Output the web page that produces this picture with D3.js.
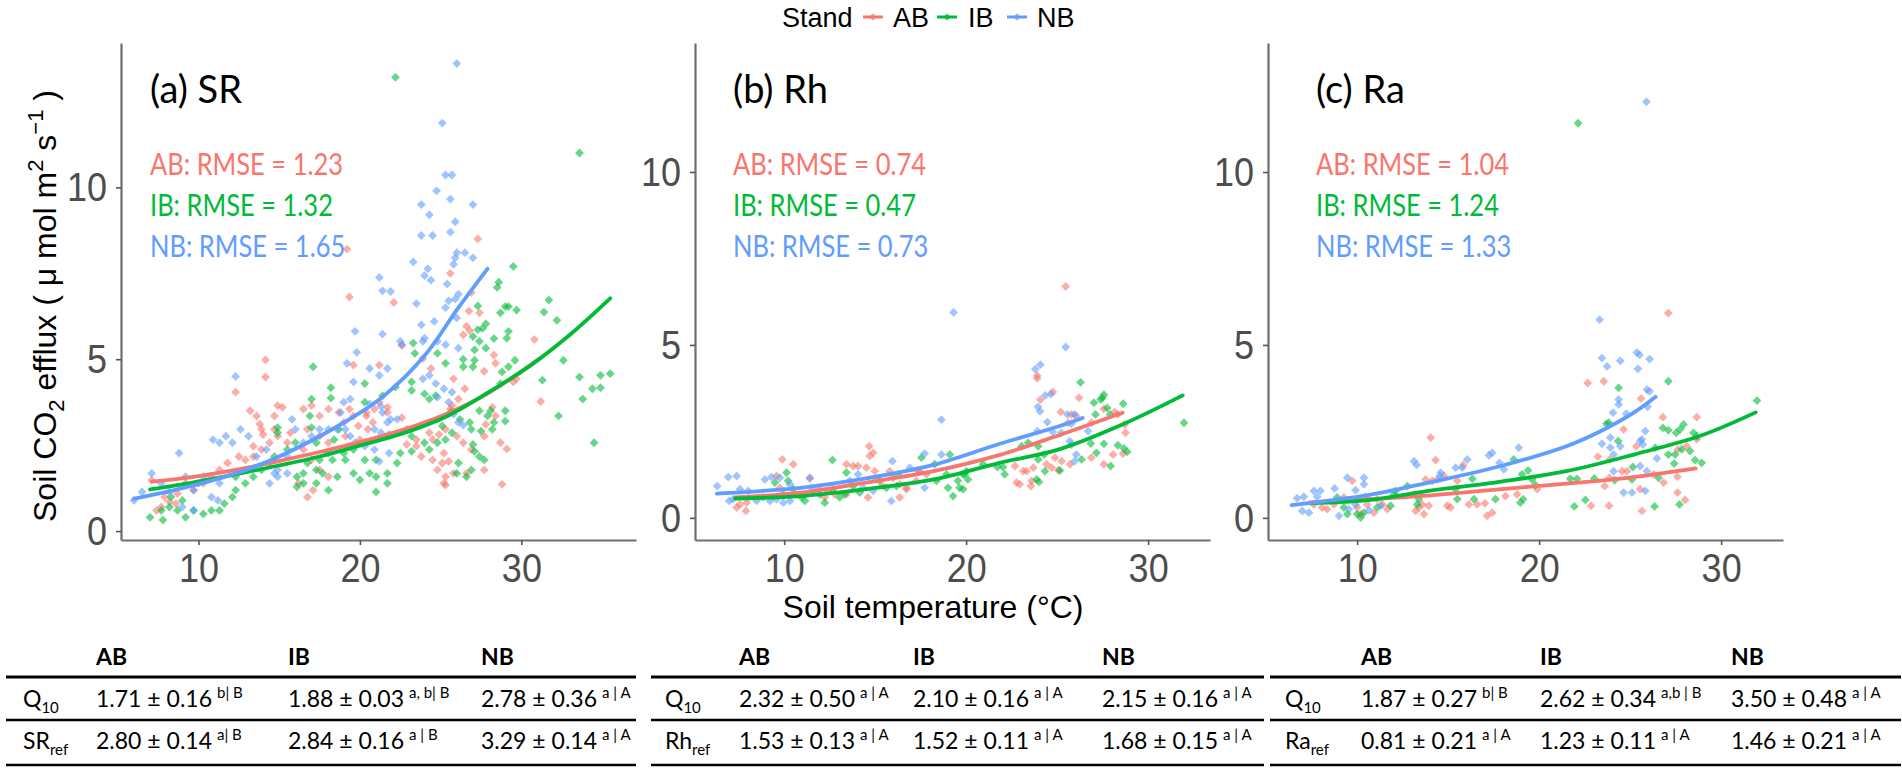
<!DOCTYPE html>
<html><head><meta charset="utf-8">
<script src="https://cdn.jsdelivr.net/npm/d3@7/dist/d3.min.js"></script>
<style>html,body{margin:0;padding:0;background:#fff;} svg{display:block;}</style>
</head><body>
<svg id="chart" width="1902" height="770"></svg>
<script>
// ---------------- data ----------------
const standNames = ["AB", "IB", "NB"];
const standColors = ["#F8766D", "#00BA38", "#619CFF"];
const panelTitles = ["(a) SR", "(b) Rh", "(c) Ra"];
const rmseSR = ["1.23", "1.32", "1.65"];
const rmseRh = ["0.74", "0.47", "0.73"];
const rmseRa = ["1.04", "1.24", "1.33"];
const xTicks = [10, 20, 30];
const yTicks = [0, 5, 10];
const xTitle = "Soil temperature (°C)";

// (a) SR points [soil temperature, efflux]
const srAB = [[27.3,8.5],[19.2,8.2],[25.6,7.5],[26.9,6.94],[19.35,6.81],[22.1,6.65],[26.75,6.4],[27.4,6.35],[26.8,5.83],[26.4,5.71],[26.6,5.96],[30.8,5.57],[22.6,5.4],[19.6,4.83],[21.2,4.83],[14.15,4.98],[14.15,4.48],[23.9,5.02],[24.4,4.73],[25.8,4.43],[26.5,4.14],[27.7,4.65],[28.4,4.88],[28.3,5.12],[29.7,4.43],[29.5,4.34],[31.2,3.77],[21.2,3.75],[21.7,3.6],[20.9,3.55],[20.4,3.45],[20.4,3.35],[21.7,3.45],[22.6,3.3],[25.6,3.55],[25.7,3.65],[26.1,3.84],[28.2,3.6],[28.4,3.35],[27.8,3.1],[29.1,2.39],[28.7,2.57],[27.7,2.76],[26.0,2.76],[26.4,2.57],[26.9,2.37],[24.9,2.81],[25.3,2.96],[24.5,2.66],[22.9,2.96],[23.5,2.66],[24.3,2.86],[22.9,2.52],[23.5,2.47],[23.8,2.17],[24.5,2.07],[25.1,1.98],[25.2,2.27],[25.5,2.03],[25.8,1.68],[24.8,1.78],[25.3,1.58],[25.2,1.39],[25.3,1.34],[26.6,1.68],[27.7,1.78],[28.8,1.36],[19.1,2.76],[20.0,2.66],[20.5,2.96],[20.8,3.16],[12.3,4.04],[13.2,3.5],[13.6,3.35],[13.8,3.11],[13.9,2.96],[14.0,2.81],[14.7,3.35],[14.9,3.65],[15.2,3.6],[14.7,2.96],[14.9,2.76],[15.5,2.57],[15.7,2.86],[14.4,2.57],[13.9,2.37],[13.4,2.47],[13.4,2.17],[12.9,2.07],[12.5,2.17],[11.8,1.98],[11.3,1.78],[10.8,1.58],[10.3,1.39],[9.7,1.19],[9.2,1.39],[8.7,1.09],[8.2,0.85],[7.7,0.7],[7.4,0.6],[7.1,1.48],[7.9,0.99],[8.6,0.8],[16.5,3.55],[17.0,3.65],[17.5,3.35],[18.05,3.55],[18.7,3.45],[19.0,3.16],[19.35,3.55],[19.6,3.35],[19.9,3.06],[16.75,2.96],[17.5,2.76],[18.05,2.57],[16.5,2.37],[17.0,2.07],[17.5,1.78],[18.05,1.58],[16.2,1.39],[17.1,1.19],[16.75,0.99]];
const srIB = [[22.2,13.2],[33.6,11.0],[29.5,7.7],[28.6,7.24],[28.5,7.09],[27.3,6.55],[29.0,6.53],[29.2,6.53],[28.7,6.35],[29.7,6.43],[31.7,6.72],[31.4,6.37],[32.2,6.13],[27.8,6.03],[27.6,5.9],[27.3,5.86],[27.0,5.66],[29.2,5.81],[29.1,5.61],[28.3,5.6],[27.4,5.52],[27.8,5.32],[27.1,5.27],[23.3,5.47],[17.1,4.78],[23.4,5.17],[24.8,5.17],[25.3,4.88],[26.4,5.0],[27.0,4.78],[27.1,4.97],[26.4,4.78],[28.8,4.63],[29.2,4.78],[29.6,4.97],[28.7,4.29],[31.3,4.39],[32.6,4.97],[33.6,4.48],[34.9,4.53],[35.5,4.58],[34.9,4.17],[34.4,4.14],[33.8,3.84],[32.3,3.35],[34.5,2.57],[23.2,4.34],[23.2,4.09],[24.0,3.99],[24.3,3.84],[24.7,3.94],[20.3,4.29],[21.4,3.94],[22.2,4.19],[18.2,4.17],[18.2,3.87],[20.3,3.75],[25.6,3.45],[26.2,3.25],[26.8,3.16],[27.4,3.5],[27.9,3.35],[28.1,3.5],[28.3,3.16],[29.0,3.5],[29.0,3.2],[28.2,2.96],[27.5,2.91],[26.9,2.96],[27.0,2.52],[27.1,2.32],[27.4,2.17],[27.7,2.07],[25.1,3.06],[25.7,2.86],[25.3,2.66],[23.2,2.76],[24.0,2.57],[23.2,2.32],[24.3,2.37],[24.8,2.57],[26.9,1.78],[26.0,1.68],[26.1,1.98],[26.6,1.58],[21.0,2.07],[21.7,1.68],[21.0,1.58],[21.0,1.14],[21.7,1.39],[22.3,1.98],[22.5,2.27],[19.6,2.37],[19.1,2.07],[19.6,1.68],[20.0,1.49],[20.3,2.07],[20.6,1.68],[18.4,2.66],[18.7,2.96],[19.0,2.27],[18.3,2.07],[18.05,2.27],[17.5,2.07],[17.3,1.78],[16.75,1.98],[16.5,1.68],[16.1,1.58],[16.1,1.29],[16.5,1.39],[17.3,1.39],[18.05,1.19],[18.6,1.58],[17.7,1.68],[17.0,3.84],[16.9,3.35],[17.0,3.01],[17.3,2.57],[14.9,3.01],[14.9,2.86],[16.0,2.57],[15.5,2.37],[14.7,2.17],[14.4,1.98],[13.9,1.78],[13.4,1.58],[12.9,1.39],[12.3,1.58],[12.3,1.19],[12.1,0.99],[11.6,0.8],[11.3,0.6],[10.8,0.6],[10.3,0.5],[9.7,0.6],[9.2,0.4],[8.7,0.6],[8.2,0.7],[7.7,0.6],[7.0,0.4],[7.8,0.32],[8.3,0.99],[9.0,0.89]];
const srNB = [[26.0,13.6],[25.1,11.87],[25.3,10.36],[25.7,10.36],[24.75,9.9],[23.8,9.5],[25.6,9.66],[27.0,9.5],[24.3,9.2],[25.9,9.0],[23.8,8.6],[24.5,8.6],[25.6,8.7],[26.0,8.1],[26.5,8.1],[27.0,7.95],[25.9,7.95],[23.3,7.83],[24.2,7.63],[25.8,7.76],[24.0,7.43],[24.4,7.3],[25.4,7.19],[21.2,7.38],[21.4,6.99],[21.9,6.97],[23.5,6.62],[26.1,6.89],[25.9,6.75],[25.5,6.7],[25.3,6.5],[24.6,6.1],[26.0,6.2],[23.8,6.0],[19.7,5.81],[21.4,5.73],[24.0,5.61],[23.9,5.52],[24.8,5.52],[25.3,5.42],[26.1,5.32],[19.2,4.88],[19.8,5.2],[12.3,4.5],[23.9,4.43],[24.3,4.53],[24.7,4.29],[24.8,3.89],[25.2,4.14],[25.5,3.75],[25.7,4.04],[25.8,3.4],[26.1,3.16],[26.4,3.08],[19.0,3.75],[19.4,3.84],[20.6,3.7],[21.3,3.63],[21.4,3.45],[19.1,2.96],[19.4,2.76],[19.7,2.57],[20.3,2.47],[20.9,2.96],[21.3,2.86],[21.8,2.81],[20.9,2.37],[21.8,2.27],[21.2,2.03],[6.0,0.89],[6.5,1.14],[7.1,1.68],[7.7,1.39],[8.2,1.14],[8.8,2.27],[9.2,1.58],[9.7,1.19],[10.0,1.39],[10.8,0.99],[10.3,1.58],[10.9,2.66],[11.3,2.57],[11.7,2.76],[12.1,2.57],[12.6,2.96],[13.1,2.76],[13.6,2.17],[14.2,2.37],[14.7,1.68],[14.9,1.78],[15.5,2.17],[15.8,3.25],[16.0,2.96],[16.5,2.57],[17.0,2.76],[17.5,2.96],[18.05,2.96],[18.6,2.96],[18.8,3.45],[19.6,4.34],[20.6,4.73],[21.2,4.53],[21.7,4.73],[21.9,3.25],[22.3,3.25],[21.7,3.16],[22.5,5.52],[22.6,5.42],[11.2,0.89],[9.0,0.7],[9.7,0.6],[11.3,1.39],[14.4,1.39],[15.5,1.68],[14.9,1.58]];
const srFitAB = [[7.1,1.44],[9.7,1.58],[12.3,1.78],[14.9,2.03],[17.5,2.3],[20.1,2.6],[22.7,2.95],[25.3,3.4],[27.9,4.0],[31.2,5.04]];
const srFitIB = [[7.0,1.21],[9.7,1.42],[12.3,1.65],[14.9,1.9],[17.5,2.17],[20.1,2.5],[22.7,2.85],[25.3,3.32],[27.9,4.02],[30.5,4.8],[33.1,5.75],[35.5,6.77]];
const srFitNB = [[6.0,0.94],[9.0,1.25],[12.3,1.68],[14.9,2.15],[18.8,3.1],[21.4,3.9],[24.0,5.1],[26.1,6.5],[27.9,7.63]];

// (b) Rh points
const rhAB = [[7.39,0.3],[7.57,0.39],[7.94,0.44],[7.9,0.2],[9.9,1.69],[10.5,1.55],[9.58,1.21],[9.76,0.87],[11.41,1.16],[11.87,0.87],[12.23,0.59],[12.41,0.78],[12.78,0.68],[13.42,0.68],[13.42,1.55],[13.79,1.5],[14.06,1.5],[14.52,1.45],[14.67,2.07],[14.7,1.79],[14.89,1.88],[14.98,1.35],[14.61,0.59],[15.07,1.11],[15.43,0.92],[15.8,1.35],[15.98,1.16],[16.35,0.97],[16.72,0.87],[17.26,1.07],[17.36,1.35],[16.35,0.59],[16.72,0.83],[17.45,1.35],[17.82,1.26],[25.47,6.69],[23.9,4.11],[23.9,4.04],[24.08,3.42],[24.76,3.64],[26.2,3.47],[25.2,3.06],[25.78,2.99],[26.05,2.94],[26.88,2.75],[27.57,3.15],[28.16,3.06],[28.71,2.7],[28.76,2.46],[28.34,2.99],[22.68,1.5],[23.14,1.35],[23.32,1.35],[23.6,1.07],[23.69,1.45],[23.56,0.92],[24.42,1.55],[24.7,1.45],[24.88,1.74],[25.25,1.64],[25.07,1.38],[25.71,1.55],[26.88,1.74],[28.07,1.83],[28.62,1.86],[27.57,1.55],[25.6,2.75],[22.77,1.02],[22.95,0.97]];
const rhIB = [[9.49,1.02],[10.13,1.31],[10.22,1.07],[9.95,0.68],[10.5,0.83],[10.96,0.59],[11.14,0.49],[11.96,0.68],[12.23,0.44],[12.69,0.83],[13.05,0.59],[13.33,0.68],[12.65,1.67],[13.42,1.31],[13.79,0.92],[14.15,0.73],[15.25,1.07],[15.62,0.87],[16.17,0.92],[16.26,1.26],[17.54,1.74],[18.27,1.55],[18.37,1.07],[18.92,1.26],[19.1,1.83],[19.0,0.87],[19.28,0.63],[19.55,1.07],[19.64,0.87],[19.83,1.26],[20.01,1.35],[26.29,3.92],[27.02,3.33],[27.11,2.99],[27.57,3.56],[27.48,3.47],[27.75,3.18],[27.9,2.99],[28.63,3.3],[27.39,3.42],[23.05,2.07],[23.41,2.17],[23.96,2.07],[24.29,1.83],[23.96,1.69],[23.87,1.11],[24.0,1.04],[24.33,1.35],[25.15,1.37],[26.34,1.69],[26.85,2.15],[27.16,1.88],[27.57,2.14],[27.94,1.5],[28.34,2.1],[28.85,1.91],[28.67,2.01],[31.97,2.75],[21.72,1.47],[22.03,1.47],[22.12,1.26],[20.93,1.55],[19.92,1.26],[19.83,0.83],[20.1,1.11]];
const rhNB = [[6.32,0.92],[6.93,1.18],[7.39,1.21],[6.98,0.49],[7.2,0.54],[7.57,0.83],[8.03,0.78],[8.49,0.49],[8.85,0.59],[9.22,0.49],[9.58,0.54],[9.95,0.44],[10.32,0.49],[8.94,1.11],[9.3,1.18],[9.76,1.16],[10.32,0.97],[11.41,1.14],[11.5,0.87],[14.06,1.26],[13.6,1.07],[14.33,0.87],[14.89,0.78],[15.89,0.49],[15.95,1.64],[16.9,1.45],[17.72,1.86],[17.72,0.87],[18.64,2.84],[19.31,5.94],[18.64,1.83],[25.47,4.94],[23.8,4.3],[24.08,4.43],[24.35,3.54],[24.66,3.58],[23.95,3.21],[24.06,3.08],[24.46,2.77],[23.91,2.51],[24.77,2.48],[25.56,2.99],[25.96,2.99],[25.78,2.72],[25.78,2.12],[26.05,1.83],[25.96,1.64],[25.69,2.22],[25.23,2.46],[26.7,2.51]];
const rhFitAB = [[7.3,0.59],[10.9,0.73],[14.5,1.02],[18.2,1.35],[21.9,1.83],[25.1,2.39],[28.6,3.04]];
const rhFitIB = [[7.3,0.56],[10.9,0.63],[14.5,0.83],[18.2,1.11],[21.9,1.6],[25.1,1.98],[28.8,2.75],[31.9,3.54]];
const rhFitNB = [[6.3,0.7],[10.9,0.87],[14.5,1.14],[18.2,1.53],[21.9,2.15],[25.1,2.65],[26.4,2.89]];

// (c) Ra points
const raAB = [[7.62,0.39],[8.07,0.3],[8.35,0.25],[8.72,0.39],[9.27,0.59],[9.73,1.07],[10.0,0.3],[10.19,0.11],[10.55,0.39],[10.92,0.15],[11.1,0.54],[11.38,0.39],[11.65,0.25],[14.04,2.32],[14.31,1.67],[15.83,1.53],[15.5,1.07],[14.77,1.21],[14.4,1.11],[14.13,1.07],[13.76,1.11],[13.58,0.39],[13.39,0.3],[13.21,0.2],[13.67,0.11],[13.94,0.35],[14.95,0.35],[15.13,0.3],[16.14,0.39],[16.59,0.39],[17.02,0.42],[17.42,0.15],[17.14,0.06],[18.15,0.63],[18.79,0.68],[19.89,0.83],[27.1,5.92],[22.67,3.9],[23.55,3.95],[25.6,3.45],[24.64,2.56],[25.34,2.07],[26.8,2.91],[28.66,2.91],[28.66,2.27],[28.11,2.07],[27.62,1.98],[27.6,1.19],[27.6,0.73],[28.02,0.52],[26.84,1.02],[26.29,1.26],[25.55,0.83],[25.65,0.2],[24.82,1.35],[24.55,1.35],[23.87,1.69],[23.6,0.92],[23.84,0.35],[22.85,0.35],[23.23,1.77],[23.87,1.16]];
const raIB = [[8.9,0.59],[9.27,0.3],[9.46,0.11],[10.0,0.11],[10.19,0.01],[10.37,0.15],[11.1,0.3],[11.84,0.35],[18.6,1.69],[19.39,1.37],[19.06,1.26],[19.79,0.95],[19.61,1.11],[19.12,0.54],[18.97,0.44],[17.6,0.54],[16.42,0.54],[16.33,1.13],[15.41,0.83],[15.5,0.54],[12.76,0.92],[13.3,0.39],[13.39,0.54],[12.11,0.78],[12.02,0.68],[31.97,3.39],[27.1,3.95],[24.37,3.76],[23.82,2.75],[23.7,2.72],[24.34,2.22],[26.8,2.6],[27.1,2.53],[27.53,2.46],[27.93,2.7],[27.75,2.56],[28.29,1.93],[27.84,1.98],[27.47,1.83],[27.1,1.83],[27.42,1.57],[28.57,1.67],[28.93,1.59],[28.66,2.36],[28.48,2.46],[26.38,2.03],[26.56,1.16],[27.71,0.39],[26.34,0.33],[25.15,1.47],[25.1,1.11],[22.54,0.52],[21.93,0.33],[21.71,1.13],[22.08,1.13],[23.03,1.14],[24.15,1.09],[22.14,11.41]];
const raNB = [[6.7,0.57],[7.07,0.61],[7.62,0.78],[7.98,0.78],[7.8,0.61],[6.98,0.2],[7.35,0.15],[8.76,0.85],[9.46,1.16],[10.37,1.16],[10.37,0.97],[9.91,0.8],[9.0,0.06],[9.55,0.25],[9.91,0.39],[10.65,0.22],[10.46,0.61],[11.29,0.35],[18.88,2.03],[17.42,1.88],[17.24,1.81],[17.82,1.59],[18.06,1.4],[16.05,1.69],[15.77,1.45],[15.41,1.45],[14.59,1.31],[14.55,1.21],[13.12,1.64],[13.27,1.53],[25.9,12.03],[23.32,5.73],[23.45,4.62],[23.73,4.38],[24.46,4.54],[25.37,4.78],[25.52,4.71],[26.07,4.59],[25.43,4.31],[24.37,3.42],[24.37,3.28],[24.06,3.04],[24.79,3.01],[25.92,3.71],[26.07,3.66],[25.96,3.21],[23.45,2.14],[23.91,2.32],[23.91,2.03],[24.09,1.83],[24.46,2.07],[25.55,2.22],[25.7,2.12],[25.83,2.51],[25.65,2.27],[26.47,1.72],[24.09,1.35],[24.64,0.73],[25.1,0.73],[25.55,1.5],[25.92,1.35],[25.83,0.78]];
const raFitAB = [[7.4,0.45],[10.6,0.54],[14.2,0.66],[17.9,0.83],[21.5,0.99],[25.2,1.18],[28.6,1.43]];
const raFitIB = [[7.4,0.42],[10.6,0.51],[14.2,0.8],[17.9,1.05],[21.5,1.35],[25.2,1.83],[28.9,2.38],[31.9,3.05]];
const raFitNB = [[6.4,0.37],[10.6,0.66],[14.2,1.05],[17.9,1.5],[21.5,2.07],[23.4,2.51],[25.2,3.04],[26.4,3.5]];

// tables
const rowQ10 = ["Q", "10"];
const rowSRref = ["SR", "ref"], rowRhref = ["Rh", "ref"], rowRaref = ["Ra", "ref"];
const q10SR = ["1.71 ± 0.16", "1.88 ± 0.03", "2.78 ± 0.36"];
const q10SRsig = ["b| B", "a, b| B", "a | A"];
const refSR = ["2.80 ± 0.14", "2.84 ± 0.16", "3.29 ± 0.14"];
const refSRsig = ["a| B", "a | B", "a | A"];
const q10Rh = ["2.32 ± 0.50", "2.10 ± 0.16", "2.15 ± 0.16"];
const q10RhSig = ["a | A", "a | A", "a | A"];
const refRh = ["1.53 ± 0.13", "1.52 ± 0.11", "1.68 ± 0.15"];
const refRhSig = ["a | A", "a | A", "a | A"];
const q10Ra = ["1.87 ± 0.27", "2.62 ± 0.34", "3.50 ± 0.48"];
const q10RaSig = ["b| B", "a,b | B", "a | A"];
const refRa = ["0.81 ± 0.21", "1.23 ± 0.11", "1.46 ± 0.21"];
const refRaSig = ["a | A", "a | A", "a | A"];

// ---------------- drawing ----------------
const svg = d3.select("#chart");
const AX = "'Liberation Sans', Arial, sans-serif";
const CAL = "Lato, 'Open Sans', sans-serif";
const Y_TOP = 43, Y_BOT = 540;
const STRETCH = 1.15;

const panels = [
  {x0:121, x1:636, xdom:[5.2,37.1], ydom:[-0.26,14.2], tx:150, pts:[srAB,srIB,srNB], fits:[srFitAB,srFitIB,srFitNB], rmse:rmseSR},
  {x0:695, x1:1210, xdom:[5.1,33.4], ydom:[-0.64,13.73], tx:733, pts:[rhAB,rhIB,rhNB], fits:[rhFitAB,rhFitIB,rhFitNB], rmse:rmseRh},
  {x0:1268, x1:1783, xdom:[5.1,33.4], ydom:[-0.64,13.73], tx:1316, pts:[raAB,raIB,raNB], fits:[raFitAB,raFitIB,raFitNB], rmse:rmseRa}
];

const diamond = r => `M0,${-r}L${r},0L0,${r}L${-r},0Z`;

panels.forEach((p, i) => {
  const x = d3.scaleLinear().domain(p.xdom).range([p.x0, p.x1]);
  const y = d3.scaleLinear().domain(p.ydom).range([Y_BOT, Y_TOP]);
  const g = svg.append("g");

  p.pts.forEach((arr, k) => {
    g.append("g").selectAll("path").data(arr).join("path")
      .attr("transform", d => `translate(${x(d[0])},${y(d[1])})`)
      .attr("d", diamond(4.4))
      .attr("fill", standColors[k])
      .attr("fill-opacity", 0.6);
  });
  const line = d3.line().x(d => x(d[0])).y(d => y(d[1])).curve(d3.curveCatmullRom.alpha(0.5));
  p.fits.forEach((arr, k) => {
    g.append("path").datum(arr).attr("d", line)
      .attr("fill", "none").attr("stroke", standColors[k])
      .attr("stroke-width", 3.8).attr("stroke-linecap", "round");
  });

  const ya = g.append("g").attr("transform", `translate(${p.x0},0)`)
    .call(d3.axisLeft(y).tickValues(yTicks).tickSize(5).tickSizeOuter(0).tickPadding(9));
  const xa = g.append("g").attr("transform", `translate(0,${Y_BOT})`)
    .call(d3.axisBottom(x).tickValues(xTicks).tickSize(5).tickSizeOuter(0).tickPadding(6));
  [ya, xa].forEach(a => {
    a.attr("font-family", AX).attr("font-size", 36);
    a.select(".domain").attr("stroke", "#6e6e6e").attr("stroke-width", 2.2);
    a.selectAll(".tick line").attr("stroke", "#555").attr("stroke-width", 1.6);
    a.selectAll(".tick text").attr("fill", "#4D4D4D").attr("transform", `scale(1,${STRETCH})`);
  });

  g.append("text").attr("transform", `translate(${p.tx},103)`)
    .attr("font-family", CAL).attr("font-size", 38).attr("fill", "#000")
    .text(panelTitles[i]);
  p.rmse.forEach((v, k) => {
    g.append("text").attr("transform", `translate(${p.tx},${175 + k * 41}) scale(1,1.2)`)
      .attr("font-family", CAL).attr("font-size", 25.5).attr("fill", standColors[k])
      .text(`${standNames[k]}: RMSE = ${v}`);
  });
});

// y-axis title
const yt = svg.append("text")
  .attr("transform", "translate(56,306) rotate(-90)")
  .attr("text-anchor", "middle").attr("font-family", AX).attr("font-size", 32).attr("fill", "#000");
yt.append("tspan").text("Soil CO");
yt.append("tspan").attr("font-size", 22).attr("dy", 8).text("2");
yt.append("tspan").attr("dy", -8).text(" efflux ( \u03bc mol m");
yt.append("tspan").attr("font-size", 22).attr("dy", -13).text("2");
yt.append("tspan").attr("dy", 13).text(" s");
yt.append("tspan").attr("font-size", 22).attr("dy", -13).text("\u22121");
yt.append("tspan").attr("dy", 13).text(" )");

// x-axis title
svg.append("text").attr("x", 933).attr("y", 618)
  .attr("text-anchor", "middle").attr("font-family", AX).attr("font-size", 32).attr("fill", "#000")
  .text(xTitle);

// legend
const lg = svg.append("g").attr("font-family", AX).attr("font-size", 27);
lg.append("text").attr("x", 782).attr("y", 27).text("Stand");
const keyX = [863, 937, 1007], labX = [893, 968, 1037];
standNames.forEach((s, k) => {
  lg.append("line").attr("x1", keyX[k]).attr("x2", keyX[k] + 20).attr("y1", 17).attr("y2", 17)
    .attr("stroke", standColors[k]).attr("stroke-width", 3);
  lg.append("path").attr("transform", `translate(${keyX[k] + 10},17)`).attr("d", diamond(3.8))
    .attr("fill", standColors[k]).attr("fill-opacity", 0.7);
  lg.append("text").attr("x", labX[k]).attr("y", 27).text(s);
});

// tables
const tables = [
  {x0:6, x1:636, cols:[23,96,288,481], rows:[rowQ10, rowSRref], vals:[q10SR, refSR], sig:[q10SRsig, refSRsig]},
  {x0:651, x1:1264, cols:[665,739,913,1102], rows:[rowQ10, rowRhref], vals:[q10Rh, refRh], sig:[q10RhSig, refRhSig]},
  {x0:1270, x1:1901, cols:[1285,1361,1540,1731], rows:[rowQ10, rowRaref], vals:[q10Ra, refRa], sig:[q10RaSig, refRaSig]}
];
const lineYs = [677, 720, 765], rowBase = [707, 749], headBase = 665;
tables.forEach(t => {
  const g = svg.append("g").attr("font-family", CAL).attr("fill", "#000");
  lineYs.forEach((ly, j) => g.append("line").attr("x1", t.x0).attr("x2", t.x1).attr("y1", ly).attr("y2", ly)
    .attr("stroke", "#000").attr("stroke-width", j === 0 ? 3 : 2.5));
  standNames.forEach((s, k) => g.append("text").attr("x", t.cols[k + 1]).attr("y", headBase)
    .attr("font-size", 23).attr("font-weight", 700).text(s));
  t.rows.forEach((r, j) => {
    const lab = g.append("text").attr("x", t.cols[0]).attr("y", rowBase[j]).attr("font-size", 23);
    lab.append("tspan").text(r[0]);
    lab.append("tspan").attr("font-size", 15).attr("dy", 6).text(r[1]);
    t.vals[j].forEach((v, k) => {
      const tx = g.append("text").attr("x", t.cols[k + 1]).attr("y", rowBase[j]).attr("font-size", 23);
      tx.append("tspan").text(v);
      tx.append("tspan").attr("font-size", 15).attr("dx", 5).attr("dy", -9).text(t.sig[j][k]);
    });
  });
});
</script>
</body></html>
